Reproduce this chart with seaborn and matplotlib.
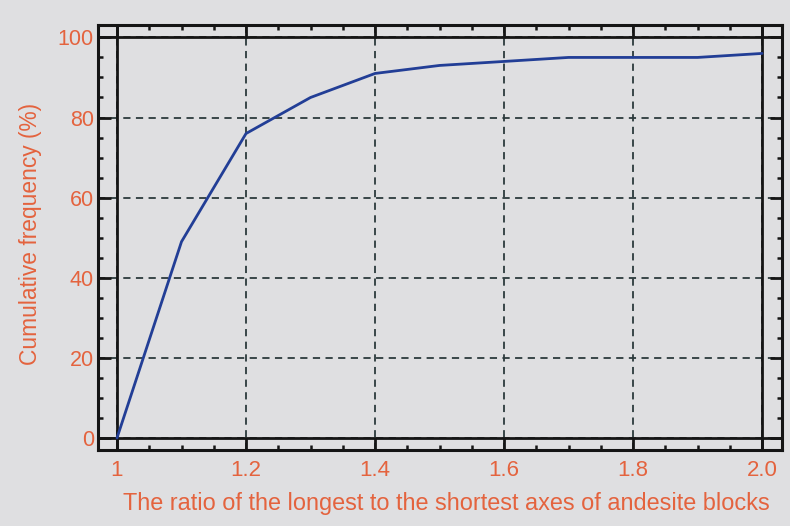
import matplotlib
matplotlib.use("Agg")
import matplotlib.pyplot as plt
import numpy as np
import pandas as pd
import seaborn as sns
from matplotlib.ticker import MultipleLocator, FixedLocator

# Cumulative frequency of block axis ratios
ratio = [1.0, 1.1, 1.2, 1.3, 1.4, 1.5, 1.6, 1.7, 1.8, 1.9, 2.0]
cum_freq = [0, 49, 76, 85, 91, 93, 94, 95, 95, 95, 96]

x_ticks = [1.0, 1.2, 1.4, 1.6, 1.8, 2.0]
x_tick_labels = ["1", "1.2", "1.4", "1.6", "1.8", "2.0"]
y_ticks = [0, 20, 40, 60, 80, 100]

sns.set_theme(style="ticks")
plt.rcParams["font.family"] = ["Liberation Sans", "DejaVu Sans"]

bg = "#dfdfe1"
text_c = "#e4633e"
frame_c = "#151515"

fig = plt.figure(figsize=(7.9, 5.26), dpi=100, facecolor=bg)
ax = fig.add_axes([0.124, 0.1445, 0.866, 0.808])
ax.set_facecolor(bg)

df = pd.DataFrame({"ratio": ratio, "cum_freq": cum_freq})
sns.lineplot(data=df, x="ratio", y="cum_freq", ax=ax, color="#223e96",
             linewidth=2.0, zorder=5)

ax.set_xlim(0.9705, 2.031)
ax.set_ylim(-3.0, 103.1)

# inner solid frame at the data limits
for xv in (1.0, 2.0):
    ax.axvline(xv, color=frame_c, lw=2.0, zorder=3)
for yv in (0, 100):
    ax.axhline(yv, color=frame_c, lw=2.0, zorder=3)

ax.xaxis.set_major_locator(FixedLocator(x_ticks))
ax.set_xticklabels(x_tick_labels)
ax.xaxis.set_minor_locator(MultipleLocator(0.05))
ax.yaxis.set_major_locator(FixedLocator(y_ticks))
ax.yaxis.set_minor_locator(MultipleLocator(5))

ax.grid(True, which="major", color="#2c3a3c", linestyle=(0, (4, 3)), lw=1.3, zorder=1)

ax.tick_params(which="both", direction="in", top=True, right=True,
               colors=frame_c, labelcolor=text_c)
ax.tick_params(which="major", length=9, width=2.0)
ax.tick_params(which="minor", length=3.5, width=1.8)
ax.tick_params(axis="x", which="major", labelsize=16, pad=7)
ax.tick_params(axis="y", which="major", labelsize=15.5, pad=3)

for s in ax.spines.values():
    s.set_color(frame_c)
    s.set_linewidth(2.2)
    s.set_visible(True)

ax.set_xlabel("The ratio of the longest to the shortest axes of andesite blocks",
              color=text_c, fontsize=16.9, labelpad=8)
ax.set_ylabel("Cumulative frequency (%)", color=text_c, fontsize=16.4, labelpad=11)
ax.xaxis.label.set_x(0.51)
ax.yaxis.label.set_y(0.509)

fig.savefig("out.png", dpi=100, facecolor=bg)
